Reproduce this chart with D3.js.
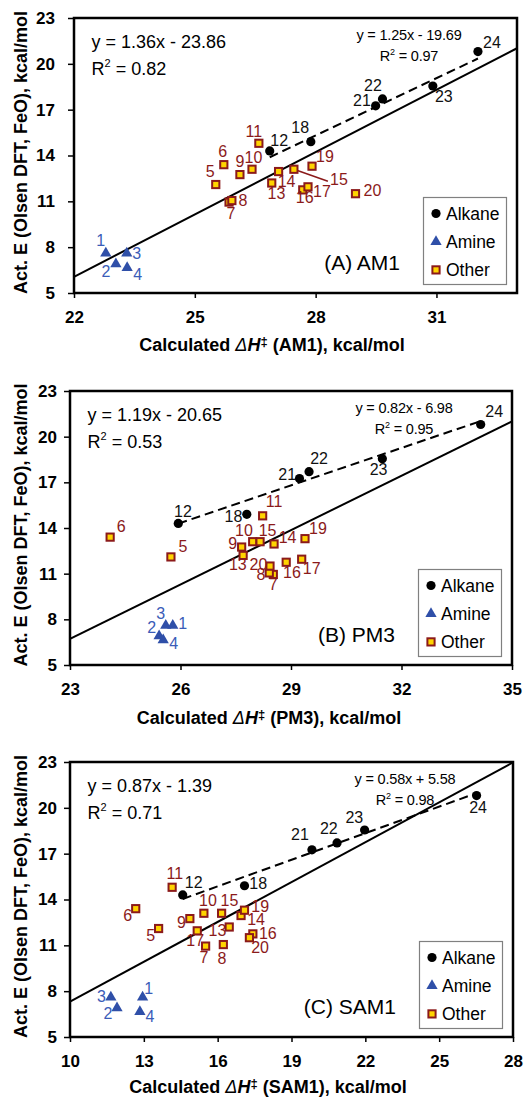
<!DOCTYPE html>
<html>
<head>
<meta charset="utf-8">
<script src="https://cdn.jsdelivr.net/npm/d3@7"></script>
<style>
  body { margin: 0; background: #fff; }
  svg text { font-family: "Liberation Sans", Arial, Helvetica, sans-serif; }
</style>
</head>
<body>
<svg id="chart" width="524" height="1099"></svg>
<script>
// compound numbers 1..24 and their class
const ids = d3.range(1, 25);
const groupOf = ["Amine", "Amine", "Amine", "Amine", "Other", "Other", "Other", "Other", "Other", "Other",
  "Other", "Alkane", "Other", "Other", "Other", "Other", "Other", "Alkane", "Other", "Other",
  "Alkane", "Alkane", "Alkane", "Alkane"];
const groups = ["Alkane", "Amine", "Other"];

// activation energy (Olsen DFT, FeO), kcal/mol
const actE = [7.6, 6.9, 7.6, 6.65, 12.1, 13.4, 10.95, 11.05, 12.75, 13.1, 14.8, 14.3,
  12.2, 12.95, 13.1, 11.75, 11.95, 14.9, 13.3, 11.5, 17.25, 17.7, 18.55, 20.8];

// calculated dH (kcal/mol) per method
const dhAM1 = [22.79, 23.04, 23.31, 23.32, 25.52, 25.72, 25.85, 25.92, 26.12, 26.42, 26.59, 26.86,
  26.91, 27.08, 27.46, 27.68, 27.81, 27.88, 27.91, 28.99, 29.49, 29.66, 30.91, 32.03];
const dhPM3 = [25.79, 25.42, 25.6, 25.53, 25.74, 24.09, 28.52, 28.41, 27.66, 27.96, 28.23, 25.94,
  27.7, 28.54, 28.16, 28.87, 29.29, 27.8, 29.38, 28.43, 29.23, 29.49, 31.48, 34.15];
const dhSAM1 = [12.95, 11.91, 11.66, 12.84, 13.6, 12.67, 15.51, 16.23, 14.87, 15.44, 14.15, 14.58,
  16.47, 16.95, 16.16, 17.43, 15.17, 17.09, 17.09, 17.29, 19.83, 20.85, 21.97, 26.52];

const methods = ["AM1", "PM3", "SAM1"];
const panelTags = ["(A) AM1", "(B) PM3", "(C) SAM1"];
const xTicksAM1 = [22, 25, 28, 31];
const xTicksPM3 = [23, 26, 29, 32, 35];
const xTicksSAM1 = [10, 13, 16, 19, 22, 25, 28];
const yTicks = [5, 8, 11, 14, 17, 20, 23];

// regression of all compounds
const fitSlope = [1.36, 1.19, 0.87];
const fitIntercept = [-23.86, -20.65, -1.39];
const fitR2 = [0.82, 0.53, 0.71];
// regression of alkanes only
const alkSlope = [1.25, 0.82, 0.58];
const alkIntercept = [-19.69, -6.98, 5.58];
const alkR2 = [0.97, 0.95, 0.98];

// label placement (centre dx, baseline dy from the marker), layout only
const offAM1 = [[-5, -7], [-10, 13], [10, 6], [10.5, 12.4], [-5.5, -7.6], [-1, -8], [2, 16.6], [11, 5.3],
  [0, -7.6], [1.5, -6.6], [-5, -6.4], [9.5, -5], [4.7, 16], [8, 15.3], [45, 15.7], [2, 13.3],
  [14, 10], [-10.6, -8.4], [13, -4.6], [17, 2.7], [-13.7, 0], [-9.5, -8.3], [11, 16], [14, -4]];
const offPM3 = [[10, 3.3], [-7.5, -3.3], [-5, -6.7], [10.5, 9], [12, -5], [11, -5.6], [0, 15.7], [-8.3, 6.7],
  [-9, 2.3], [-8.7, -6], [11.5, -8.7], [4.7, -6.6], [-5.3, 14.3], [13.5, -1], [7.5, -6], [5.8, 15.7],
  [10, 15], [-13.3, 7.7], [13, -4.3], [-11.5, 4.3], [-12.3, 1], [10, -7.7], [-3.8, 16.7], [13.5, -7.3]];
const offSAM1 = [[6, -3.4], [-9, 10.6], [-9.5, 4.4], [10, 10], [-8, 12.4], [-8, 12.7], [-1.7, 17.3], [-1.3, 19],
  [-8.5, 9.3], [4, -7.3], [2.7, -8.3], [11, -6.7], [-11.8, 9.4], [15, 9.8], [7.8, -7.3], [15, 5.5],
  [-2, 15], [13.7, 3.6], [15.7, 2.2], [10.7, 15.5], [-12, -10], [-8.2, -9.4], [-10.3, -6.7], [1.5, 17.6]];

const panels = [
  { xs: dhAM1, dom: [22, 33], ticks: xTicksAM1, l: 74, r: 517, t: 18, b: 293, ytp: 13, titleX: 272, titleY: 351, off: offAM1 },
  { xs: dhPM3, dom: [23, 35], ticks: xTicksPM3, l: 70, r: 512, t: 391, b: 665, ytp: 7, titleX: 269, titleY: 724, off: offPM3 },
  { xs: dhSAM1, dom: [10, 28], ticks: xTicksSAM1, l: 70, r: 513, t: 762, b: 1037, ytp: 7, titleX: 268, titleY: 1093, off: offSAM1 }
];

const colour = { Alkane: "#000", Amine: "#2f4fa8", Other: "#8b1a1a" };
const labelColour = { Alkane: "#111", Amine: "#3a5cb8", Other: "#8b1a1a" };
const squareFill = "#ffd400";

const svg = d3.select("#chart");
const defs = svg.append("defs");

function drawMarker(sel, grp) {
  if (grp === "Alkane") {
    sel.append("circle").attr("r", 4.6).attr("fill", colour.Alkane);
  } else if (grp === "Amine") {
    sel.append("path").attr("d", d3.symbol(d3.symbolTriangle, 55)()).attr("fill", colour.Amine);
  } else {
    sel.append("rect").attr("x", -3.6).attr("y", -3.6).attr("width", 7.2).attr("height", 7.2)
      .attr("fill", squareFill).attr("stroke", colour.Other).attr("stroke-width", 2);
  }
}

function eqText(m, b) {
  return `y = ${m.toFixed(2)}x ${b < 0 ? "-" : "+"} ${Math.abs(b).toFixed(2)}`;
}

panels.forEach((p, pi) => {
  const x = d3.scaleLinear().domain(p.dom).range([p.l, p.r]);
  const y = d3.scaleLinear().domain([5, 23]).range([p.b, p.t]);
  const g = svg.append("g");

  defs.append("clipPath").attr("id", "clip" + pi)
    .append("rect").attr("x", p.l).attr("y", p.t).attr("width", p.r - p.l).attr("height", p.b - p.t);

  // axes
  g.append("g")
    .attr("transform", `translate(0,${p.b})`)
    .call(d3.axisBottom(x).tickValues(p.ticks).tickSize(5).tickPadding(13).tickFormat(d3.format("d")))
    .call(a => a.select(".domain").remove())
    .attr("font-size", 17).attr("font-weight", "bold")
    .call(a => a.selectAll("line").attr("stroke", "#000").attr("stroke-width", 1.5))
    .call(a => a.selectAll("text").attr("fill", "#000"));

  g.append("g")
    .attr("transform", `translate(${p.l},0)`)
    .call(d3.axisLeft(y).tickValues(yTicks).tickSize(6).tickPadding(p.ytp).tickFormat(d3.format("d")))
    .call(a => a.select(".domain").remove())
    .attr("font-size", 17).attr("font-weight", "bold")
    .call(a => a.selectAll("line").attr("stroke", "#000").attr("stroke-width", 1.5))
    .call(a => a.selectAll("text").attr("fill", "#000"));

  // titles
  const xt = g.append("text")
    .attr("x", p.titleX).attr("y", p.titleY)
    .attr("text-anchor", "middle").attr("font-size", 18).attr("font-weight", "bold");
  xt.append("tspan").text("Calculated ");
  xt.append("tspan").attr("font-style", "italic").attr("font-weight", "normal").text("\u0394");
  xt.append("tspan").attr("font-style", "italic").text("H");
  xt.append("tspan").attr("font-size", 13).attr("dy", -5).text("\u2021");
  xt.append("tspan").attr("dy", 5).text(` (${methods[pi]}), kcal/mol`);

  g.append("text")
    .attr("transform", `translate(27,${(p.t + p.b) / 2 - 3}) rotate(-90)`)
    .attr("text-anchor", "middle").attr("font-size", 18).attr("font-weight", "bold")
    .text("Act. E (Olsen DFT, FeO), kcal/mol");

  // regression lines
  const lines = g.append("g").attr("clip-path", `url(#clip${pi})`);
  lines.append("line")
    .attr("x1", x(p.dom[0])).attr("y1", y(fitSlope[pi] * p.dom[0] + fitIntercept[pi]))
    .attr("x2", x(p.dom[1])).attr("y2", y(fitSlope[pi] * p.dom[1] + fitIntercept[pi]))
    .attr("stroke", "#000").attr("stroke-width", 2);

  const alkX = ids.filter(i => groupOf[i - 1] === "Alkane").map(i => p.xs[i - 1]);
  const [ax0, ax1] = d3.extent(alkX);
  lines.append("line")
    .attr("x1", x(ax0)).attr("y1", y(alkSlope[pi] * ax0 + alkIntercept[pi]))
    .attr("x2", x(ax1)).attr("y2", y(alkSlope[pi] * ax1 + alkIntercept[pi]))
    .attr("stroke", "#000").attr("stroke-width", 2).attr("stroke-dasharray", "9,5");

  // leader line for compound 15 in AM1
  if (pi === 0) {
    g.append("line")
      .attr("x1", x(p.xs[14])).attr("y1", y(actE[14]))
      .attr("x2", x(p.xs[14]) + 34).attr("y2", y(actE[14]) + 12)
      .attr("stroke", colour.Other).attr("stroke-width", 1.5);
  }

  // markers
  ids.forEach(id => {
    const m = g.append("g").attr("transform", `translate(${x(p.xs[id - 1])},${y(actE[id - 1])})`);
    drawMarker(m, groupOf[id - 1]);
  });

  // point labels
  g.append("g").selectAll("text")
    .data(ids)
    .join("text")
    .attr("x", id => x(p.xs[id - 1]) + p.off[id - 1][0])
    .attr("y", id => y(actE[id - 1]) + p.off[id - 1][1])
    .attr("text-anchor", "middle")
    .attr("font-size", 16)
    .attr("fill", id => labelColour[groupOf[id - 1]])
    .text(id => id);

  // frame
  g.append("rect")
    .attr("x", p.l).attr("y", p.t).attr("width", p.r - p.l).attr("height", p.b - p.t)
    .attr("fill", "none").attr("stroke", "#000").attr("stroke-width", 2.5);

  // equations
  g.append("text").attr("x", p.l + 17.5).attr("y", p.t + 30).attr("font-size", 18)
    .text(eqText(fitSlope[pi], fitIntercept[pi]));
  const r2 = g.append("text").attr("x", p.l + 17.5).attr("y", p.t + 56.5).attr("font-size", 18);
  r2.append("tspan").text("R");
  r2.append("tspan").attr("font-size", 11).attr("dy", -8).text("2");
  r2.append("tspan").attr("dy", 8).text(` = ${fitR2[pi].toFixed(2)}`);

  const ex = p.r - 108;
  g.append("text").attr("x", ex).attr("y", p.t + 22).attr("font-size", 14.5)
    .attr("text-anchor", "middle").attr("letter-spacing", -0.2)
    .text(eqText(alkSlope[pi], alkIntercept[pi]));
  const r2s = g.append("text").attr("x", ex).attr("y", p.t + 43).attr("font-size", 14.5)
    .attr("text-anchor", "middle").attr("letter-spacing", -0.2);
  r2s.append("tspan").text("R");
  r2s.append("tspan").attr("font-size", 9).attr("dy", -6).text("2");
  r2s.append("tspan").attr("dy", 6).text(` = ${alkR2[pi].toFixed(2)}`);

  // panel tag
  g.append("text").attr("x", p.r - 117).attr("y", p.b - 23)
    .attr("text-anchor", "end").attr("font-size", 21)
    .text(panelTags[pi]);

  // legend
  const lx = p.r - 93.5, ly = p.b - 95.5;
  const leg = g.append("g").attr("transform", `translate(${lx},${ly})`);
  leg.append("rect").attr("width", 83).attr("height", 87)
    .attr("fill", "#fff").attr("stroke", "#808080").attr("stroke-width", 1.2);
  groups.forEach((grp, k) => {
    const row = leg.append("g").attr("transform", `translate(12.5,${16 + k * 28.2})`);
    drawMarker(row, grp);
    row.append("text").attr("x", 10).attr("y", 6).attr("font-size", 17.5).text(grp);
  });
});
</script>
</body>
</html>
